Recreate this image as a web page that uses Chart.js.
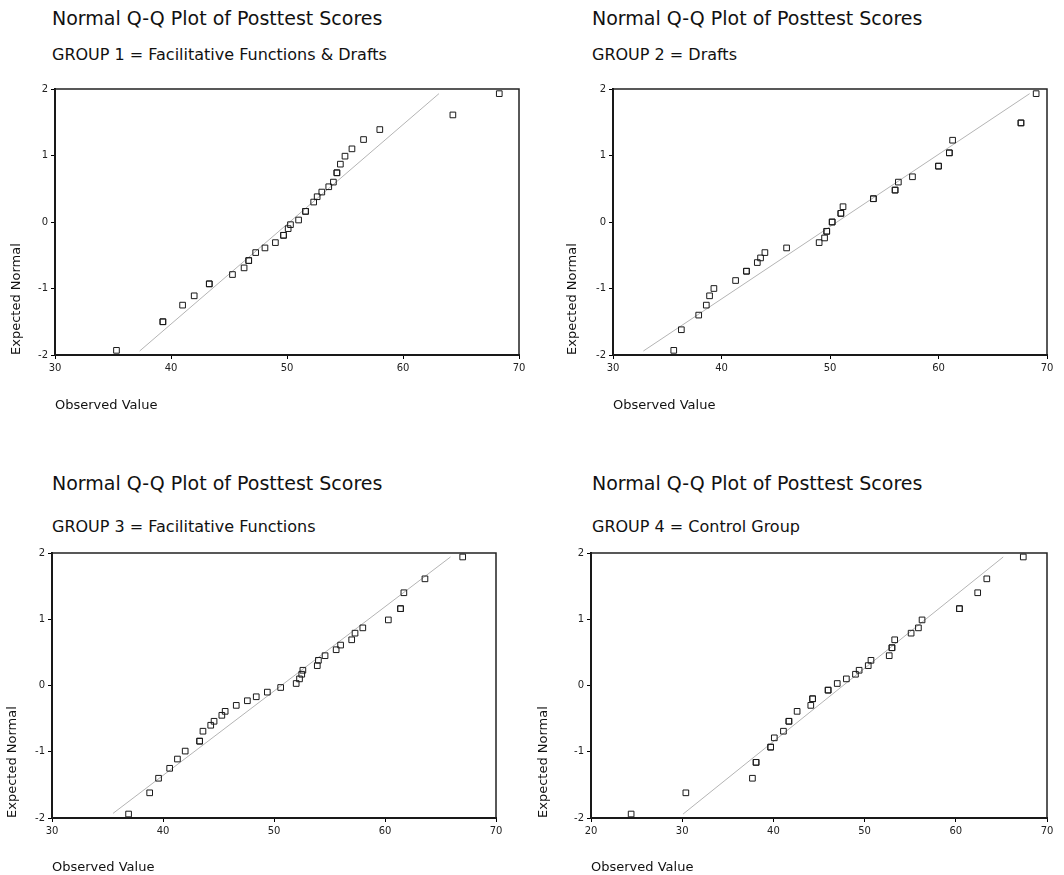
<!DOCTYPE html>
<html>
<head>
<meta charset="utf-8">
<script src="https://cdn.jsdelivr.net/npm/chart.js@4.4.1/dist/chart.umd.min.js"></script>
<style>
  body { margin: 0; background: #fff; width: 1064px; height: 875px; position: relative; overflow: hidden;
         font-family: "DejaVu Sans", sans-serif; color: #111; }
  .t { position: absolute; white-space: nowrap; }
  .main { font-size: 19px; line-height: 22px; }
  .sub { font-size: 16px; line-height: 20px; }
  canvas { position: absolute; }
</style>
</head>
<body>
<div class="t main" style="left:52px;top:7px">Normal Q-Q Plot of Posttest Scores</div>
<div class="t sub" style="left:52px;top:45px">GROUP 1 = Facilitative Functions &amp; Drafts</div>
<div class="t main" style="left:592px;top:7px">Normal Q-Q Plot of Posttest Scores</div>
<div class="t sub" style="left:592px;top:45px">GROUP 2 = Drafts</div>
<div class="t main" style="left:52px;top:472px">Normal Q-Q Plot of Posttest Scores</div>
<div class="t sub" style="left:52px;top:517px">GROUP 3 = Facilitative Functions</div>
<div class="t main" style="left:592px;top:472px">Normal Q-Q Plot of Posttest Scores</div>
<div class="t sub" style="left:592px;top:517px">GROUP 4 = Control Group</div>

<canvas id="chart-g1" width="530" height="340" style="left:0;top:80px"></canvas>
<canvas id="chart-g2" width="506" height="340" style="left:558px;top:80px"></canvas>
<canvas id="chart-g3" width="510" height="331" style="left:0;top:544px"></canvas>
<canvas id="chart-g4" width="528" height="331" style="left:536px;top:544px"></canvas>

<script>
// observed posttest scores and their expected normal values (ties listed twice)
const group1Observed = [35.3, 39.3, 39.3, 41.0, 42.0, 43.3, 43.3, 45.3, 46.3, 46.7, 46.7, 47.3, 48.1, 49.0,
  49.7, 49.7, 50.1, 50.3, 51.0, 51.6, 51.6, 52.3, 52.6, 53.0, 53.6, 54.0, 54.3, 54.3, 54.6, 55.0, 55.6,
  56.6, 58.0, 64.3, 68.3];
const group1Expected = [-1.93, -1.50, -1.50, -1.25, -1.11, -0.93, -0.93, -0.79, -0.69, -0.58, -0.58, -0.46,
  -0.39, -0.31, -0.20, -0.20, -0.10, -0.04, 0.03, 0.16, 0.16, 0.30, 0.38, 0.45, 0.53, 0.60, 0.74, 0.74,
  0.87, 0.99, 1.10, 1.24, 1.39, 1.61, 1.93];

const group2Observed = [35.6, 36.3, 37.9, 38.6, 38.9, 39.3, 41.3, 42.3, 42.3, 43.3, 43.6, 44.0, 46.0, 49.0,
  49.5, 49.7, 49.7, 50.2, 50.2, 51.0, 51.0, 51.2, 54.0, 54.0, 56.0, 56.0, 56.3, 57.6, 60.0, 60.0, 61.0,
  61.0, 61.3, 67.6, 67.6, 69.0];
const group2Expected = [-1.93, -1.62, -1.40, -1.25, -1.11, -1.00, -0.88, -0.74, -0.74, -0.61, -0.54, -0.46,
  -0.39, -0.31, -0.24, -0.14, -0.14, 0.00, 0.00, 0.13, 0.13, 0.23, 0.35, 0.35, 0.48, 0.48, 0.60, 0.68,
  0.84, 0.84, 1.04, 1.04, 1.23, 1.49, 1.49, 1.93];

const group3Observed = [36.9, 38.8, 39.6, 40.6, 41.3, 42.0, 43.3, 43.3, 43.6, 44.3, 44.6, 45.3, 45.6, 46.6,
  47.6, 48.4, 49.4, 50.6, 52.0, 52.3, 52.5, 52.6, 53.9, 54.0, 54.6, 55.6, 56.0, 57.0, 57.3, 58.0, 60.3,
  61.4, 61.4, 61.7, 63.6, 67.0];
const group3Expected = [-1.94, -1.62, -1.40, -1.25, -1.11, -0.99, -0.84, -0.84, -0.69, -0.60, -0.54, -0.45,
  -0.39, -0.30, -0.23, -0.17, -0.10, -0.03, 0.03, 0.10, 0.17, 0.23, 0.30, 0.38, 0.45, 0.54, 0.61, 0.69,
  0.79, 0.87, 0.99, 1.16, 1.16, 1.40, 1.61, 1.94];

const group4Observed = [24.4, 30.4, 37.7, 38.1, 38.1, 39.7, 39.7, 40.1, 41.1, 41.7, 41.7, 42.6, 44.1, 44.3,
  44.3, 46.0, 46.0, 47.0, 48.0, 49.0, 49.4, 50.4, 50.7, 52.7, 53.0, 53.0, 53.3, 55.1, 55.9, 56.3, 60.4,
  60.4, 62.4, 63.4, 67.4];
const group4Expected = [-1.94, -1.62, -1.40, -1.16, -1.16, -0.93, -0.93, -0.79, -0.69, -0.54, -0.54, -0.39,
  -0.30, -0.20, -0.20, -0.07, -0.07, 0.03, 0.10, 0.17, 0.23, 0.30, 0.38, 0.45, 0.57, 0.57, 0.69, 0.79,
  0.87, 0.99, 1.16, 1.16, 1.40, 1.61, 1.94];

// reference lines: [start, end]
const group1LineX = [37.3, 63.1];
const group1LineY = [-1.94, 1.93];
const group2LineX = [32.8, 68.4];
const group2LineY = [-1.94, 1.93];
const group3LineX = [35.5, 65.9];
const group3LineY = [-1.93, 1.94];
const group4LineX = [30.1, 65.2];
const group4LineY = [-1.94, 1.94];

const xTicks = [20, 30, 40, 50, 60, 70];
const yTicks = [-2, -1, 0, 1, 2];

const toPoints = (xs, ys) => xs.map((x, i) => ({ x: x, y: ys[i] }));

// draws the frame round the plot area
const framePlugin = {
  id: "frame",
  afterDraw(chart) {
    const { ctx, chartArea } = chart;
    ctx.save();
    ctx.strokeStyle = "#222";
    ctx.lineWidth = 1.5;
    ctx.strokeRect(chartArea.left, chartArea.top, chartArea.right - chartArea.left, chartArea.bottom - chartArea.top);
    ctx.restore();
  },
};

function qqChart(id, observed, expected, lineX, lineY, xMin, layout) {
  const ctx = document.querySelector(id).getContext("2d");
  return new Chart(ctx, {
    type: "scatter",
    data: {
      datasets: [
        {
          label: "Expected",
          data: toPoints(observed, expected),
          pointStyle: "rect",
          pointRadius: 4,
          pointBorderWidth: 1,
          pointBorderColor: "#1a1a1a",
          pointBackgroundColor: "rgba(255,255,255,0)",
        },
        {
          label: "Line",
          data: toPoints(lineX, lineY),
          showLine: true,
          borderColor: "#b4b4b4",
          borderWidth: 1,
          pointRadius: 0,
        },
      ],
    },
    plugins: [framePlugin],
    options: {
      responsive: false,
      animation: false,
      events: [],
      layout: { padding: { top: layout.padTop, right: layout.padRight, left: 0, bottom: 0 } },
      plugins: { legend: { display: false }, tooltip: { enabled: false } },
      scales: {
        x: {
          type: "linear",
          min: xMin,
          max: 70,
          afterBuildTicks: (scale) => {
            scale.ticks = xTicks.filter((v) => v >= xMin).map((v) => ({ value: v }));
          },
          afterFit: (scale) => { scale.height = layout.xAxisHeight; },
          grid: { drawOnChartArea: false, drawTicks: true, tickLength: 4, color: "#000", lineWidth: 1 },
          border: { display: true, color: "#000", width: 2 },
          ticks: { color: "#222", padding: 3, font: { family: "DejaVu Sans", size: 10 }, maxRotation: 0 },
          title: {
            display: true,
            text: "Observed Value",
            align: "start",
            color: "#111",
            font: { family: "DejaVu Sans", size: 13 },
            padding: { top: 0, bottom: layout.xTitlePad },
          },
        },
        y: {
          type: "linear",
          min: -2,
          max: 2,
          afterBuildTicks: (scale) => {
            scale.ticks = yTicks.map((v) => ({ value: v }));
          },
          afterFit: (scale) => { scale.width = layout.yAxisWidth; },
          grid: { drawOnChartArea: false, drawTicks: true, tickLength: 4, color: "#000", lineWidth: 1 },
          border: { display: true, color: "#000", width: 2 },
          ticks: { color: "#222", padding: 3, font: { family: "DejaVu Sans", size: 10 } },
          title: {
            display: true,
            text: "Expected Normal",
            align: "start",
            color: "#111",
            font: { family: "DejaVu Sans", size: 13 },
            padding: { top: layout.yTitlePad, bottom: 0 },
          },
        },
      },
    },
  });
}

qqChart("#chart-g1", group1Observed, group1Expected, group1LineX, group1LineY, 30,
  { padTop: 7, padRight: 11, yAxisWidth: 55, xAxisHeight: 65, yTitlePad: 9, xTitlePad: 7 });
qqChart("#chart-g2", group2Observed, group2Expected, group2LineX, group2LineY, 30,
  { padTop: 7, padRight: 17, yAxisWidth: 55, xAxisHeight: 65, yTitlePad: 7, xTitlePad: 7 });
qqChart("#chart-g3", group3Observed, group3Expected, group3LineX, group3LineY, 30,
  { padTop: 7, padRight: 14, yAxisWidth: 52, xAxisHeight: 57, yTitlePad: 5, xTitlePad: 0 });
qqChart("#chart-g4", group4Observed, group4Expected, group4LineX, group4LineY, 20,
  { padTop: 7, padRight: 17, yAxisWidth: 55, xAxisHeight: 57, yTitlePad: 0, xTitlePad: 0 });
</script>
</body>
</html>
